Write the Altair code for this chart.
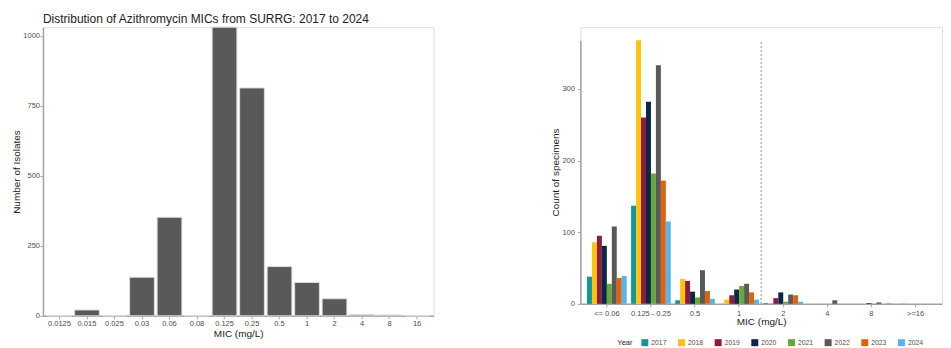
import altair as alt
import pandas as pd

# ---- Left panel data ----
mic_left = ["0.0125", "0.015", "0.025", "0.03", "0.06", "0.08", "0.125",
            "0.25", "0.5", "1", "2", "4", "8", "16"]
isolates = [0, 21, 0, 138, 352, 0, 1031, 814, 176, 119, 61, 4, 3, 0]

# ---- Right panel data ----
mic_right = ["<= 0.06", "0.125 - 0.25", "0.5", "1", "2", "4", "8", ">=16"]
years = ["2017", "2018", "2019", "2020", "2021", "2022", "2023", "2024"]
y2017 = [38, 137, 5, 0, 1, 0, 0, 0]
y2018 = [86, 368, 35, 6, 1, 0, 0, 1]
y2019 = [95, 260, 32, 12, 8, 0, 0, 0]
y2020 = [81, 282, 17, 20, 16, 0, 1, 0]
y2021 = [28, 182, 9, 25, 3, 0, 0, 0]
y2022 = [108, 333, 47, 28, 13, 5, 2, 0]
y2023 = [36, 172, 18, 16, 12, 0, 0, 0]
y2024 = [39, 115, 7, 6, 3, 0, 1, 0]
year_colors = ["#12979C", "#FFC20E", "#8C1D40", "#0B2747", "#67A83A",
               "#595959", "#E0620F", "#56B6EA"]
breakpoint_after = ["1"]

FONT = "Liberation Sans"

df_left = pd.DataFrame({"mic": mic_left, "n": isolates})

rows = []
for yr, vals in zip(years, [y2017, y2018, y2019, y2020, y2021, y2022, y2023, y2024]):
    for m, v in zip(mic_right, vals):
        rows.append({"mic": m, "year": yr, "count": v})
df_right = pd.DataFrame(rows)
df_rule = pd.DataFrame({"mic": breakpoint_after, "y0": [0], "y1": [max(y2018)]})

axis_common = dict(domainColor="#a3a3a3", domainWidth=1.5, tickColor="#a3a3a3",
                   tickSize=3, labelColor="#4d4d4d", labelFontSize=7.5,
                   titleFontSize=10, titleColor="#222222", titleFontWeight="normal",
                   grid=False, labelFont=FONT, titleFont=FONT)

left = alt.Chart(df_left).mark_bar(color="#595959", stroke="#dcdcdc", strokeWidth=1).encode(
    x=alt.X("mic:N", sort=mic_left,
            scale=alt.Scale(paddingInner=0.1, paddingOuter=0.15),
            axis=alt.Axis(title="MIC (mg/L)", labelAngle=0, labelPadding=1,
                          titlePadding=1, **axis_common)),
    y=alt.Y("n:Q", scale=alt.Scale(domain=[0, max(isolates)], nice=False),
            axis=alt.Axis(title="Number of Isolates", values=[0, 250, 500, 750, 1000],
                          format="d", labelPadding=0.5, titlePadding=1.5, **axis_common)),
).properties(
    width=391, height=289,
    title=alt.TitleParams("Distribution of Azithromycin MICs from SURRG: 2017 to 2024",
                          anchor="start", frame="group", fontSize=12,
                          fontWeight="normal", color="#222222", font=FONT, offset=1),
)

xenc = alt.X("mic:N", sort=mic_right,
             scale=alt.Scale(paddingInner=0.1, paddingOuter=0.15),
             axis=alt.Axis(title="MIC (mg/L)", labelAngle=0, labelPadding=2.5,
                           titlePadding=0, **axis_common))

bars = alt.Chart(df_right).mark_bar().encode(
    x=xenc,
    xOffset=alt.XOffset("year:N", sort=years,
                        scale=alt.Scale(paddingInner=0, paddingOuter=0)),
    y=alt.Y("count:Q", scale=alt.Scale(domain=[0, max(y2018)], nice=False, range=[277, 13]),
            axis=alt.Axis(title="Count of specimens", values=[0, 100, 200, 300],
                          format="d", labelPadding=3, titlePadding=1, **axis_common)),
    color=alt.Color("year:N", sort=years,
                    scale=alt.Scale(domain=years, range=year_colors),
                    legend=alt.Legend(title="Year", orient="none", direction="horizontal",
                                      columns=8, legendX=575, legendY=312,
                                      titleOrient="left", titleFontSize=7.5,
                                      titleFontWeight="normal", titleColor="#222222",
                                      titleFont=FONT, titlePadding=8,
                                      labelFont=FONT, labelFontSize=6.8,
                                      labelColor="#4d4d4d", labelOffset=3,
                                      symbolType="square", symbolSize=49,
                                      symbolStrokeWidth=0, columnPadding=10.7)),
)

rule = alt.Chart(df_rule).mark_rule(strokeDash=[2, 2], color="#8c8c8c", strokeWidth=1,
                                    xOffset=2.2).encode(
    x=alt.X("mic:N", sort=mic_right, bandPosition=1),
    y=alt.Y("y0:Q"),
    y2="y1:Q",
)

right = alt.layer(bars, rule).properties(width=362, height=277)

chart = alt.hconcat(left, right, spacing=115).properties(
    padding={"left": 2, "top": 4, "right": 0, "bottom": 0}
).configure_view(stroke=None).configure(font=FONT)

chart.save("out.html", embed_options={"renderer": "svg", "actions": False})
